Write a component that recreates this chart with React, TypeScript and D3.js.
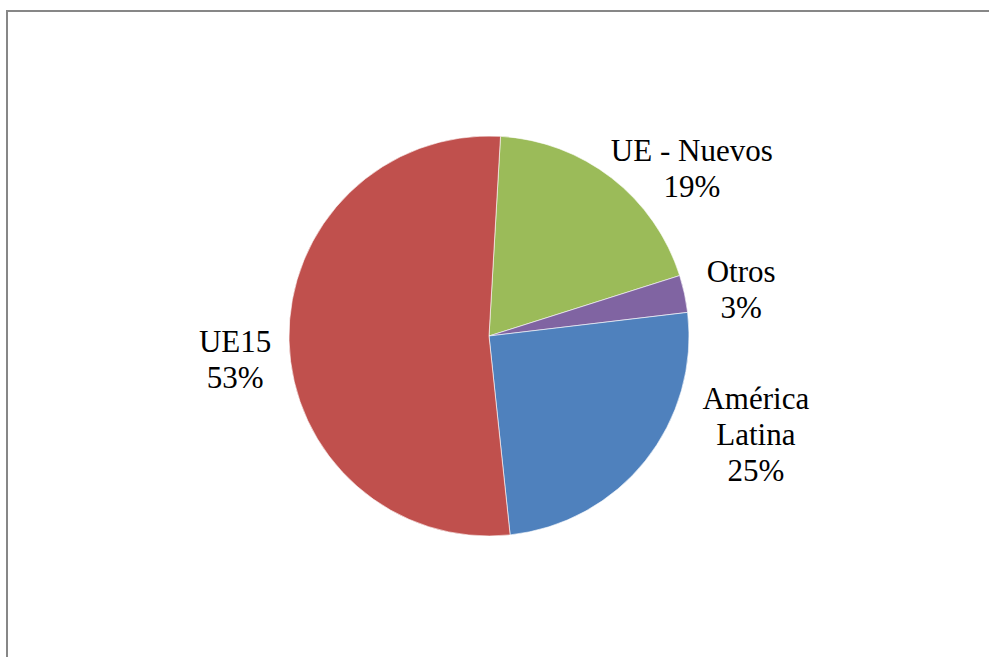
import React from "react";
import * as d3 from "d3";

const categories = ["UE - Nuevos", "Otros", "América Latina", "UE15"];
const values = [19.2, 3.0, 25.2, 52.6];
const labelLines = [["UE - Nuevos"], ["Otros"], ["América", "Latina"], ["UE15"]];
const colors = ["#9BBB59", "#8064A2", "#4F81BD", "#C0504D"];

// layout
const W = 989;
const H = 657;
const CX = 489;
const CY = 336;
const R = 200;
const START_DEG = 3.3;
const LABEL_R = 262;
const nudges: [number, number][] = [
  [42, 39],
  [-4, 9],
  [62, -65],
  [8, 17],
];
const FONT = 31;
const LINE = 36;
const SERIF = "Liberation Serif";

export default function App() {
  const total = d3.sum(values);
  const pie = d3
    .pie<number>()
    .sort(null)
    .value((d) => d)
    .startAngle((START_DEG * Math.PI) / 180)
    .endAngle((START_DEG * Math.PI) / 180 + 2 * Math.PI);
  const arcs = pie(values);
  const arc = d3.arc<d3.PieArcDatum<number>>().innerRadius(0).outerRadius(R);

  return (
    <svg
      width={W}
      height={H}
      style={{ position: "absolute", left: 0, top: 0, background: "#fff", fontFamily: SERIF }}
    >
      <rect x={7} y={11} width={1100} height={800} fill="#fff" stroke="#878787" strokeWidth={2} />
      <g transform={`translate(${CX},${CY})`}>
        {arcs.map((a, i) => (
          <path key={categories[i]} d={arc(a) || ""} fill={colors[i]} stroke="#fff" strokeWidth={0.6} />
        ))}
      </g>
      {arcs.map((a, i) => {
        const mid = (a.startAngle + a.endAngle) / 2;
        const x = CX + Math.sin(mid) * LABEL_R + nudges[i][0];
        const y = CY - Math.cos(mid) * LABEL_R + nudges[i][1];
        const lines = [...labelLines[i], `${Math.round((a.value / total) * 100)}%`];
        const first = y + 10.5 - ((lines.length - 1) / 2) * LINE;
        return lines.map((t, j) => (
          <text
            key={"l" + i + "-" + j}
            x={x}
            y={first + j * LINE}
            textAnchor="middle"
            fontSize={FONT}
            style={{ fontFamily: SERIF }}
            fill="#000"
          >
            {t}
          </text>
        ));
      })}
    </svg>
  );
}
